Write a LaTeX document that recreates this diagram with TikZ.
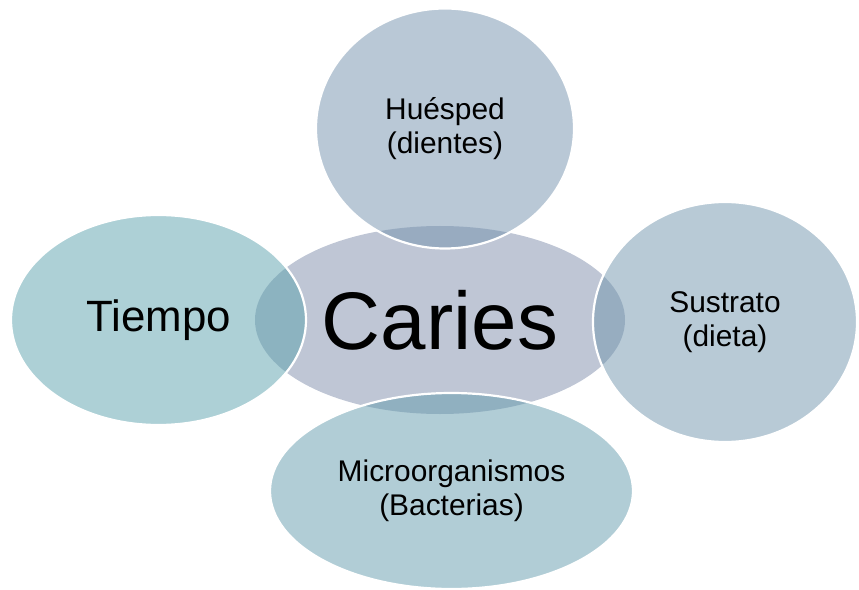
\documentclass[tikz,border=0pt]{standalone}
\usepackage{fontspec}
\setmainfont{Liberation Sans}
\usetikzlibrary{shapes.geometric}
\definecolor{centerc}{RGB}{191,198,213}
\definecolor{topc}{RGB}{115,145,173}
\definecolor{rightc}{RGB}{113,149,173}
\definecolor{leftc}{RGB}{91,161,173}
\definecolor{bottomc}{RGB}{99,155,173}
\tikzset{
  blob/.style={ellipse, inner sep=0pt, outer sep=0pt, align=center,
    font=\fontsize{30}{34}\selectfont, text=black},
  outer/.style={blob, draw=white, line width=2.2bp, fill opacity=0.5, text opacity=1}
}
\begin{document}
\begin{tikzpicture}[x=1bp,y=-1bp]
\useasboundingbox (0,0) rectangle (859,590);
\node[blob, fill=centerc, minimum width=370bp, minimum height=188bp,
      font=\fontsize{82}{86}\selectfont] (caries) at (440,320) {Caries};
\node[outer, fill=topc, minimum width=258bp, minimum height=240bp] (huesped) at (445,128.5) {Huésped\\(dientes)};
\node[outer, fill=rightc, minimum width=264bp, minimum height=240bp] (sustrato) at (725,322) {Sustrato\\(dieta)};
\node[outer, fill=leftc, minimum width=295bp, minimum height=210bp,
      font=\fontsize{44}{48}\selectfont] (tiempo) at (158.5,320) {Tiempo};
\node[outer, fill=bottomc, minimum width=363bp, minimum height=196bp] (micro) at (451.5,491) {Microorganismos\\(Bacterias)};
\end{tikzpicture}
\end{document}
